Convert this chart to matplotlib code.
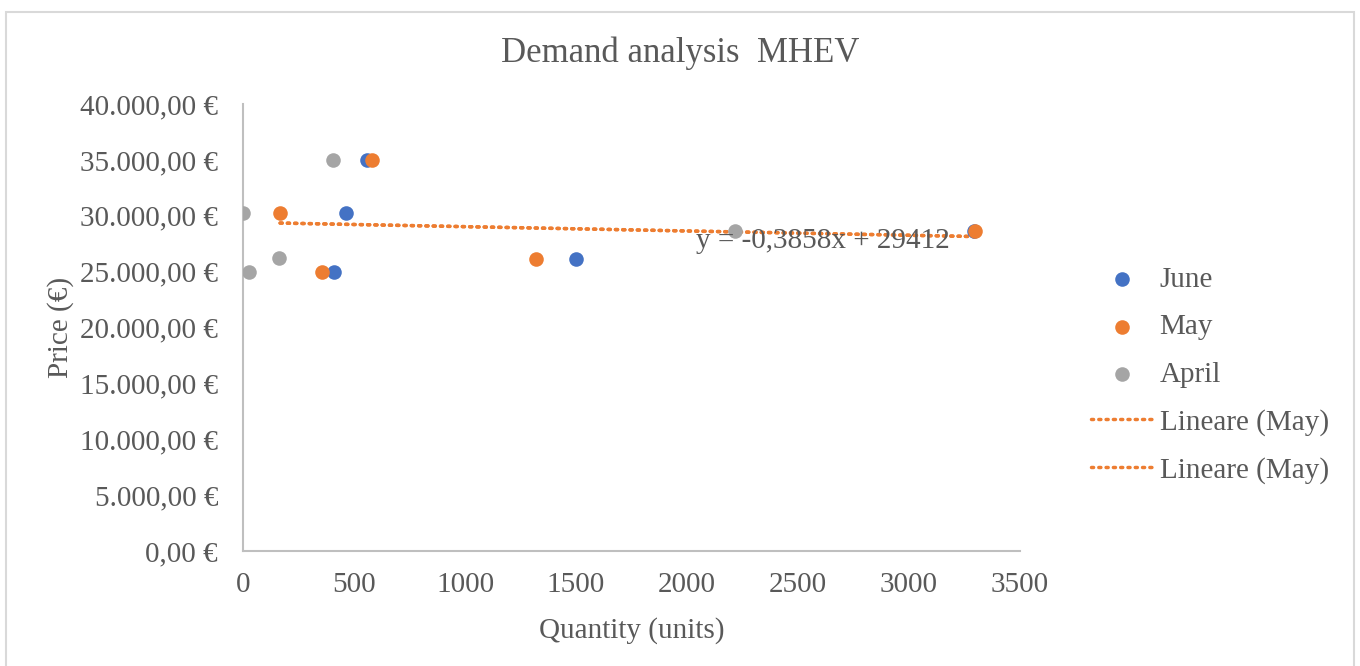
import matplotlib.pyplot as plt
from matplotlib.ticker import FuncFormatter, MultipleLocator
from matplotlib.patches import Rectangle

# data
qty_june = [558, 464, 410, 1500, 3295]
price_june = [35000, 30250, 25000, 26150, 28600]
qty_may = [167, 581, 356, 1320, 3297]
price_may = [30250, 35000, 25000, 26150, 28600]
qty_april = [0, 405, 27, 162, 2216]
price_april = [30250, 35000, 25000, 26200, 28600]

trend_slope = -0.3858
trend_intercept = 29412

plt.rcParams['font.family'] = ['Liberation Serif', 'DejaVu Serif']

GREY_TXT = '#595959'
BLUE = '#4472C4'
ORANGE = '#ED7D31'
GREY = '#A5A5A5'
FS = 21


def euro(v, pos):
  s = f'{v:,.2f}'.replace(',', 'X').replace('.', ',').replace('X', '.')
  return s + ' €'


fig = plt.figure(figsize=(13.6, 6.66), dpi=100)
ax = fig.add_axes([0.1787, 0.1727, 0.5713, 0.6711])

ax.scatter(qty_june, price_june, s=110, color=BLUE, label='June', zorder=3, linewidths=0)
ax.scatter(qty_may, price_may, s=110, color=ORANGE, label='May', zorder=3, linewidths=0)
ax.scatter(qty_april, price_april, s=110, color=GREY, label='April', zorder=3, linewidths=0)

# two identical linear trendlines for May
x_tr = [min(qty_may), max(qty_may)]
y_tr = [trend_slope * x + trend_intercept for x in x_tr]
for _ in range(2):
  ax.plot(x_tr, y_tr, color=ORANGE, lw=2.5, linestyle=(0, (0.6, 1.5)),
          dash_capstyle='round', label='Lineare (May)', zorder=2)

ax.text(2613, 27750, 'y = -0,3858x + 29412', ha='center', va='center',
        fontsize=FS, color=GREY_TXT, zorder=4)

ax.set_xlim(0, 3500)
ax.set_ylim(0, 40000)
ax.xaxis.set_major_locator(MultipleLocator(500))
ax.yaxis.set_major_locator(MultipleLocator(5000))
ax.yaxis.set_major_formatter(FuncFormatter(euro))

for side in ['top', 'right']:
  ax.spines[side].set_visible(False)
for side in ['left', 'bottom']:
  ax.spines[side].set_color('#bfbfbf')
  ax.spines[side].set_linewidth(1.5)

ax.tick_params(axis='y', length=0, pad=18, labelsize=FS, labelcolor=GREY_TXT)
ax.tick_params(axis='x', length=0, pad=15, labelsize=FS, labelcolor=GREY_TXT)

ax.set_xlabel('Quantity (units)', fontsize=FS, color=GREY_TXT, labelpad=14)
ax.set_ylabel('Price (€)', fontsize=FS, color=GREY_TXT, labelpad=4)

fig.suptitle('Demand analysis  MHEV', x=0.5, y=0.945, fontsize=25, color=GREY_TXT)

leg = fig.legend(*ax.get_legend_handles_labels(), loc='center left',
                 bbox_to_anchor=(0.783, 0.437), frameon=False, fontsize=FS,
                 handlelength=2.1, handletextpad=0.25, labelspacing=0.72,
                 scatterpoints=1)
for t in leg.get_texts():
  t.set_color(GREY_TXT)

# chart area border
fig.patches.append(Rectangle((6 / 1360, -0.01), 1348 / 1360, 1 - 12 / 666 + 0.01,
                             transform=fig.transFigure, fill=False,
                             edgecolor='#d9d9d9', lw=1.5))

fig.savefig('out.png', dpi=100)
